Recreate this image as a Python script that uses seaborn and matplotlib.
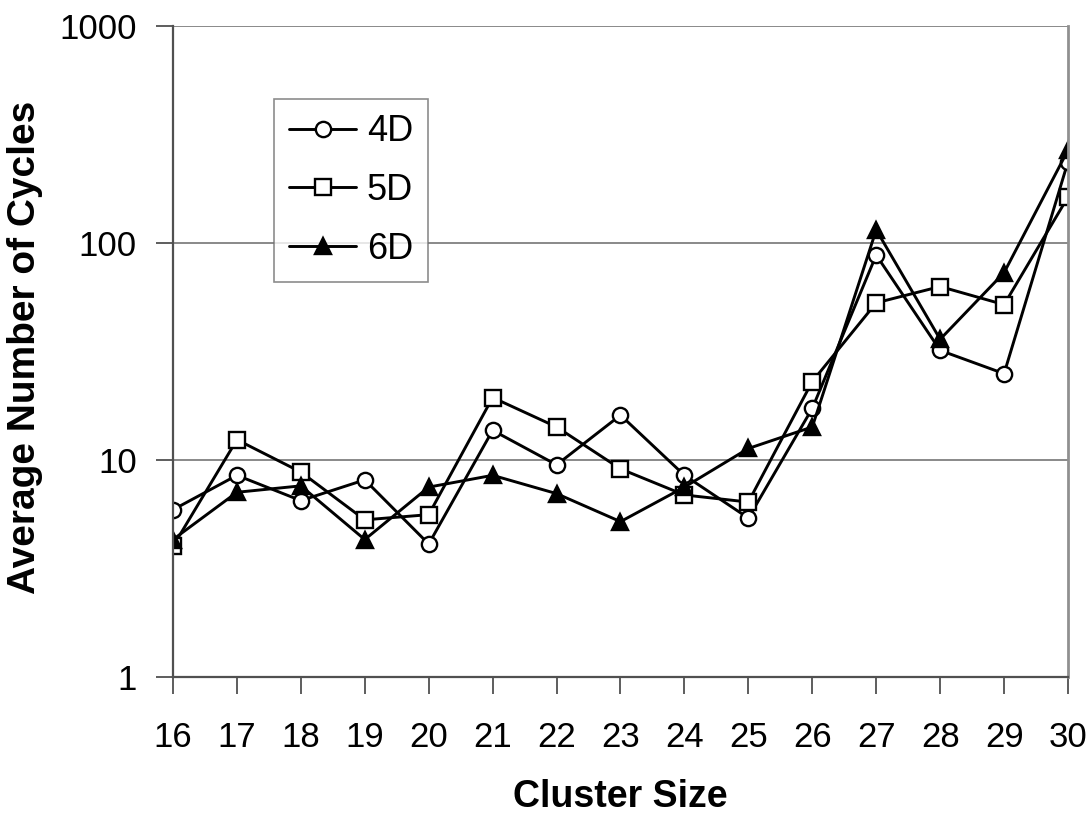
import matplotlib
matplotlib.use("Agg")
import matplotlib.pyplot as plt
import seaborn as sns
import pandas as pd

cluster_size = [16, 17, 18, 19, 20, 21, 22, 23, 24, 25, 26, 27, 28, 29, 30]
cycles_4d = [5.9, 8.5, 6.5, 8.1, 4.1, 13.7, 9.5, 16.1, 8.5, 5.4, 17.3, 88, 32, 25, 237]
cycles_5d = [4.0, 12.4, 8.8, 5.3, 5.6, 19.4, 14.2, 9.1, 6.9, 6.4, 23, 53, 63, 52, 163]
cycles_6d = [4.3, 7.1, 7.6, 4.3, 7.5, 8.5, 7.0, 5.2, 7.5, 11.3, 14.2, 115, 36, 73, 268]
series_names = ["4D", "5D", "6D"]
y_ticks = [1, 10, 100, 1000]
y_tick_labels = ["1", "10", "100", "1000"]

sns.set_theme(style="white")
plt.rcParams['font.family'] = ['Liberation Sans', 'DejaVu Sans']
plt.rcParams['text.color'] = 'black'

fig = plt.figure(figsize=(10.91, 8.16), dpi=100)
ax = fig.add_axes([173 / 1091, (816 - 677) / 816, 895 / 1091, 651 / 816])

df = pd.DataFrame({"x": cluster_size, "4D": cycles_4d, "5D": cycles_5d, "6D": cycles_6d})
styles = {
    "4D": dict(marker="o", markerfacecolor="white", markersize=11),
    "5D": dict(marker="s", markerfacecolor="white", markersize=11),
    "6D": dict(marker="^", markerfacecolor="black", markersize=12),
}
for name in series_names:
    sns.lineplot(data=df, x="x", y=name, ax=ax, color="black", linewidth=2.1,
                 markeredgecolor="black", markeredgewidth=1.7, label=name,
                 **styles[name])

ax.set_yscale("log")
ax.set_ylim(1, 1000)
ax.set_xlim(16, 30)
ax.set_yticks(y_ticks)
ax.set_yticklabels(y_tick_labels)
ax.minorticks_off()
ax.set_xticks(cluster_size)
ax.set_xticklabels([str(c) for c in cluster_size])

ax.yaxis.grid(True, color="#808080", linewidth=1.3)
ax.xaxis.grid(False)
ax.set_axisbelow(True)
for s in ["left", "bottom"]:
    ax.spines[s].set_color("#505050")
    ax.spines[s].set_linewidth(1.6)
ax.spines["right"].set_color("#909090")
ax.spines["right"].set_linewidth(2.0)
ax.spines["top"].set_visible(False)
ax.tick_params(axis="both", which="major", direction="out", length=12, width=1.3,
               color="#505050", labelsize=25, labelcolor="black",
               left=True, bottom=True)
ax.tick_params(axis="x", pad=20)
ax.tick_params(axis="y", pad=14)

ax.set_xlabel("Cluster Size", fontsize=27, fontweight="bold", va="center", color="black")
ax.xaxis.set_label_coords(0.5, (677 - 797) / 651)
ax.set_ylabel("Average Number of Cycles", fontsize=28, fontweight="bold", va="center",
              color="black")
ax.yaxis.set_label_coords((25 - 173) / 895, (677 - 347) / 651)

leg = ax.legend(loc="upper left", bbox_to_anchor=((274 - 173) / 895, (677 - 99) / 651),
                fontsize=26, frameon=True, fancybox=False, edgecolor="#707070",
                handlelength=1.85, handletextpad=0.3, borderpad=0.42, labelspacing=0.66,
                borderaxespad=0)
leg.get_frame().set_linewidth(1.2)
for t in leg.get_texts():
    t.set_color("black")

fig.savefig("out.png", dpi=100, facecolor="white")
